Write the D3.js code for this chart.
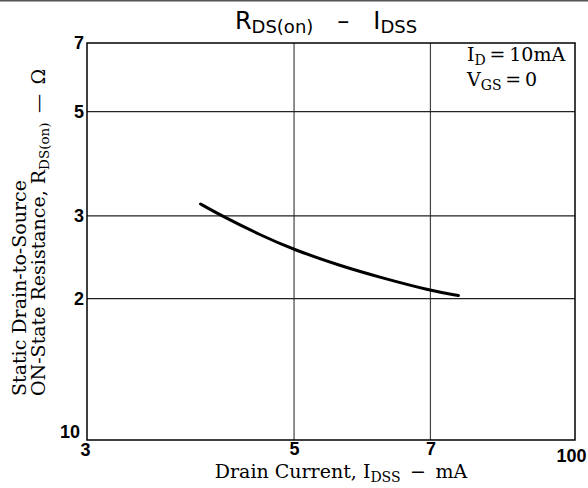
<!DOCTYPE html>
<html><head><meta charset="utf-8">
<script src="https://cdn.jsdelivr.net/npm/d3@7"></script>
<style>body{margin:0;background:#fff}svg{display:block}</style>
</head><body>
<script>
// Data
const idss = [3.97, 4.17, 4.6, 5.0, 5.6, 6.18, 7.0, 7.5];
const rdson = [3.18, 3.01, 2.73, 2.54, 2.35, 2.22, 2.08, 2.03];
const xTickValues = [3, 5, 7, 10];
const xTickLabels = ["3", "5", "7", "100"];
const yTickValues = [1, 2, 3, 5, 7];
const yTickLabels = ["10", "2", "3", "5", "7"];
const xGrid = [5, 7];
const yGrid = [2, 3, 5];

const W = 588, H = 488;
const m = {left: 87, right: 13, top: 43, bottom: 48};
const svg = d3.select("body").append("svg").attr("width", W).attr("height", H);

svg.append("line").attr("x1",0).attr("x2",W).attr("y1",0.5).attr("y2",0.5)
  .attr("stroke","#555").attr("stroke-width",2);

const x = d3.scaleLog().domain([3, 10]).range([m.left, W - m.right]);
const y = d3.scaleLog().domain([1, 7]).range([H - m.bottom, m.top]);

// grid
svg.append("g").selectAll("line").data(xGrid).join("line")
  .attr("x1", d => x(d)).attr("x2", d => x(d))
  .attr("y1", m.top).attr("y2", H - m.bottom)
  .attr("stroke", "#444").attr("stroke-width", 1.2);
svg.append("g").selectAll("line").data(yGrid).join("line")
  .attr("x1", m.left).attr("x2", W - m.right)
  .attr("y1", d => y(d)).attr("y2", d => y(d))
  .attr("stroke", "#222").attr("stroke-width", 1.2);

// frame
svg.append("rect").attr("x", m.left).attr("y", m.top)
  .attr("width", W - m.left - m.right).attr("height", H - m.top - m.bottom)
  .attr("fill", "none").attr("stroke", "#000").attr("stroke-width", 1.5);

// axes
const tickFont = "'Liberation Sans', Arial, sans-serif";
const xa = svg.append("g").attr("transform", `translate(0,${H - m.bottom})`)
  .call(d3.axisBottom(x).tickValues(xTickValues).tickSize(0).tickPadding(2)
    .tickFormat((d, i) => xTickLabels[i]));
const ya = svg.append("g").attr("transform", `translate(${m.left},0)`)
  .call(d3.axisLeft(y).tickValues(yTickValues).tickSize(0).tickPadding(3)
    .tickFormat((d, i) => yTickLabels[i]));
[xa, ya].forEach(a => {
  a.attr("font-size", null).attr("font-family", null);
  a.select(".domain").remove();
  a.selectAll("text").style("font-family", tickFont).style("font-weight", "bold")
    .style("font-size", "18px").attr("fill", "#000");
});
xa.selectAll(".tick").filter(d => d === 3).select("text").attr("dx", -2).attr("dy", "0.75em");
xa.selectAll(".tick").filter(d => d === 10).select("text").attr("dx", -4).attr("dy", "1.1em");
ya.selectAll(".tick").filter(d => d === 1).select("text").attr("dy", "-0.15em").attr("dx", -4);

// curve
svg.append("path")
  .datum(idss.map((v, i) => [v, rdson[i]]))
  .attr("d", d3.line().x(d => x(d[0])).y(d => y(d[1])).curve(d3.curveBasis))
  .attr("fill", "none").attr("stroke", "#000").attr("stroke-width", 3)
  .attr("stroke-linecap", "round");

// title
const title = svg.append("text").attr("x", 326).attr("y", 29)
  .attr("text-anchor", "middle")
  .attr("font-family", "'DejaVu Sans', sans-serif").attr("font-size", 24).attr("fill", "#000");
title.append("tspan").text("R");
title.append("tspan").attr("font-size", 18).attr("dy", 4).text("DS(on)");
title.append("tspan").attr("dy", -4).text("\u2003\u2013\u2003I");
title.append("tspan").attr("font-size", 18).attr("dy", 4).text("DSS");

const serif = "'DejaVu Serif', 'Liberation Serif', serif";
// x label
const xl = svg.append("text").attr("x", 341).attr("y", 478).attr("text-anchor", "middle")
  .attr("font-family", serif).attr("font-size", 19).attr("fill", "#000");
xl.append("tspan").text("Drain Current, I");
xl.append("tspan").attr("font-size", 14).attr("dy", 4).text("DSS");
xl.append("tspan").attr("dy", -4).text("\u2002\u2212\u2002mA");

// y label
svg.append("text").attr("transform", "translate(26,396) rotate(-90)")
  .attr("font-family", serif).attr("font-size", 19).attr("fill", "#000")
  .text("Static Drain-to-Source");
const yl2 = svg.append("text").attr("transform", "translate(45,396) rotate(-90)")
  .attr("font-family", serif).attr("font-size", 19).attr("fill", "#000");
yl2.append("tspan").text("ON-State Resistance, R");
yl2.append("tspan").attr("font-size", 13.5).attr("dy", 4).text("DS(on)");
yl2.append("tspan").attr("dy", -4).text("\u2002\u2014\u2002\u03a9");

// conditions
const c1 = svg.append("text").attr("x", 467).attr("y", 61)
  .attr("font-family", serif).attr("font-size", 19).attr("fill", "#000");
c1.append("tspan").text("I");
c1.append("tspan").attr("font-size", 14).attr("dy", 4).text("D");
c1.append("tspan").attr("dy", -4).text("\u2009=\u200910mA");
const c2 = svg.append("text").attr("x", 467).attr("y", 86)
  .attr("font-family", serif).attr("font-size", 19).attr("fill", "#000");
c2.append("tspan").text("V");
c2.append("tspan").attr("font-size", 14).attr("dy", 4).text("GS");
c2.append("tspan").attr("dy", -4).text("\u2009=\u20090");
</script>
</body></html>
